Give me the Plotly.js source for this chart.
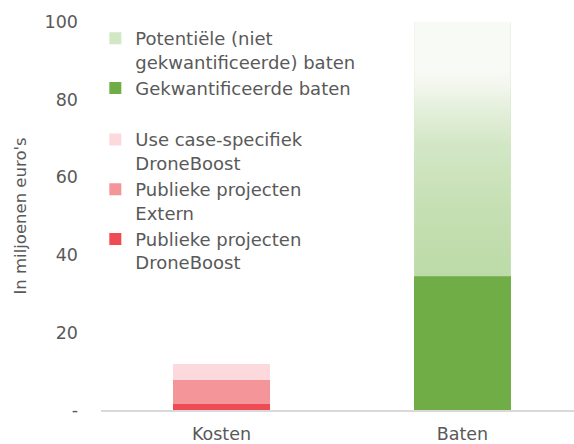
<!DOCTYPE html>
<html>
<head>
<meta charset="utf-8">
<script src="https://cdn.plot.ly/plotly-3.0.1.min.js"></script>
<style>html,body{margin:0;padding:0;background:#fff}#chart{width:574px;height:444px}</style>
</head>
<body>
<div id="chart"></div>
<script>
// Data
const categories = ['Kosten', 'Baten'];
const droneBoostPubliek = [1.6, 0];      // Publieke projecten DroneBoost
const externPubliek = [6.2, 0];          // Publieke projecten Extern
const useCaseDroneBoost = [4.1, 0];      // Use case-specifiek DroneBoost
const gekwantificeerd = [0, 34.5];       // Gekwantificeerde baten
const potentieel = [0, 65.5];            // Potentiële (niet gekwantificeerde) baten
const yTickVals = [0, 20, 40, 60, 80, 100];
const yTickText = ['-', '20', '40', '60', '80', '100'];

const xPos = categories.map((c, i) => i);
const barWidth = 0.4;
const FONT = 'DejaVu Sans, sans-serif';
const TXT = '#595959';

const bi = 1; // Baten index
const potBase = gekwantificeerd[bi];
const potTop = potBase + potentieel[bi];
const hw = barWidth / 2;

const traces = [
  {type:'bar', x:xPos, y:droneBoostPubliek, width:barWidth, name:'Publieke projecten<br>DroneBoost',
   marker:{color:'#EF4B55', line:{width:0}}, legendgroup:'kosten', legendrank:5},
  {type:'bar', x:xPos, y:externPubliek, width:barWidth, name:'Publieke projecten<br>Extern',
   marker:{color:'#F4959A', line:{width:0}}, legendgroup:'kosten', legendrank:4},
  {type:'bar', x:xPos, y:useCaseDroneBoost, width:barWidth, name:'Use case-specifiek<br>DroneBoost',
   marker:{color:'#FCD9DC', line:{width:0}}, legendgroup:'kosten', legendrank:3},
  {type:'bar', x:xPos, y:gekwantificeerd, width:barWidth, name:'Gekwantificeerde baten',
   marker:{color:'#70AD47', line:{width:0}}, legendgroup:'baten', legendrank:2},
  {type:'bar', x:xPos, y:potentieel, width:barWidth, name:'Potentiële (niet<br>gekwantificeerde) baten',
   marker:{color:'#d2e7c3', line:{width:0}}, legendgroup:'baten', legendrank:1},
  // vertical gradient overlay on the potential-benefits bar
  {type:'scatter', mode:'lines', showlegend:false,
   x:[xPos[bi]-hw, xPos[bi]+hw, xPos[bi]+hw, xPos[bi]-hw, xPos[bi]-hw],
   y:[potBase, potBase, potTop, potTop, potBase],
   fill:'toself', line:{width:0, color:'rgba(0,0,0,0)'},
   fillcolor:'#d3e7c6',
   fillgradient:{type:'vertical', colorscale:[[0,'#bcdba8'],[0.26,'#c5dfb2'],[0.52,'#d3e7c6'],[0.65,'#e3efdb'],[0.74,'#f1f6ec'],[0.81,'#f8faf5'],[1,'#f8faf5']]},
   legendgroup:'baten'}
];

const layout = {
  width:574, height:444,
  margin:{l:101, r:0, t:22, b:34},
  paper_bgcolor:'#fff', plot_bgcolor:'#fff',
  barmode:'stack',
  showlegend:true,
  font:{family:FONT, color:TXT, size:17.5},
  xaxis:{
    range:[-0.5, 1.463], tickvals:xPos, ticktext:categories,
    showgrid:false, zeroline:false, showline:true, linecolor:'#d9d9d9', linewidth:2,
    ticks:'', ticklabelstandoff:7, tickfont:{family:FONT, color:TXT, size:17.5}
  },
  yaxis:{
    range:[0, 100], tickvals:yTickVals, ticktext:yTickText,
    showgrid:false, zeroline:false, showline:false, ticks:'',
    ticklabelstandoff:22, tickfont:{family:FONT, color:TXT, size:17.5},
    title:{text:"In miljoenen euro's", font:{family:FONT, color:TXT, size:16.5}, standoff:13}
  },
  legend:{
    x:-0.012, y:1.005, xanchor:'left', yanchor:'top', maxheight:1,
    traceorder:'grouped', tracegroupgap:25, valign:'top',
    bgcolor:'rgba(0,0,0,0)', font:{family:FONT, color:TXT, size:18}
  }
};

Plotly.newPlot('chart', traces, layout, {displayModeBar:false, staticPlot:true});
</script>
</body>
</html>
